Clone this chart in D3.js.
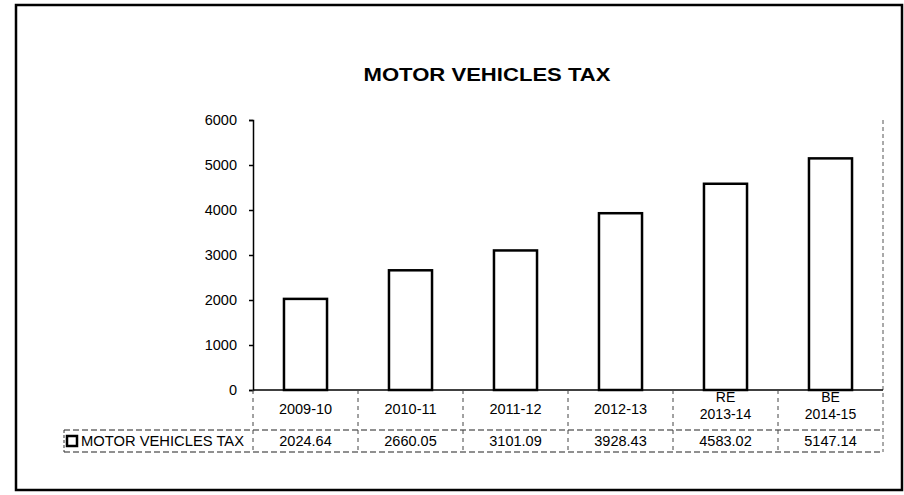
<!DOCTYPE html>
<html>
<head>
<meta charset="utf-8">
<script src="https://cdn.jsdelivr.net/npm/d3@7/dist/d3.min.js"></script>
<style>
  html, body { margin: 0; padding: 0; background: #fff; }
  svg { display: block; font-family: "Liberation Sans", Arial, sans-serif; }
</style>
</head>
<body>
<svg id="chart" width="904" height="495"></svg>
<script>
// ---- data ----
const categories = ["2009-10", "2010-11", "2011-12", "2012-13", "RE\n2013-14", "BE\n2014-15"];
const values = [2024.64, 2660.05, 3101.09, 3928.43, 4583.02, 5147.14];
const valueLabels = ["2024.64", "2660.05", "3101.09", "3928.43", "4583.02", "5147.14"];
const yTicks = [0, 1000, 2000, 3000, 4000, 5000, 6000];
const seriesName = "MOTOR VEHICLES TAX";
const chartTitle = "MOTOR VEHICLES TAX";

const svg = d3.select("#chart");
const fs = 14.5;

// outer frame
svg.append("rect")
  .attr("x", 16).attr("y", 5).attr("width", 886).attr("height", 485)
  .attr("fill", "none").attr("stroke", "#000").attr("stroke-width", 2.5);

const plotLeft = 253, plotRight = 883, plotTop = 120, plotBottom = 390;

const x = d3.scaleBand().domain(categories).range([plotLeft, plotRight])
  .paddingInner(0.59).paddingOuter(0.295);
const y = d3.scaleLinear().domain([0, 6000]).range([plotBottom, plotTop]);

// title
svg.append("text")
  .attr("x", 487).attr("y", 81)
  .attr("text-anchor", "middle")
  .attr("font-weight", "bold").attr("font-size", 18)
  .attr("textLength", 247).attr("lengthAdjust", "spacingAndGlyphs")
  .text(chartTitle);

// right dashed border of plot area
svg.append("line")
  .attr("x1", plotRight).attr("x2", plotRight).attr("y1", plotTop).attr("y2", 452)
  .attr("stroke", "#555").attr("stroke-width", 1).attr("stroke-dasharray", "4,3");

// y axis
const yAxis = d3.axisLeft(y).tickValues(yTicks).tickSize(4).tickPadding(12).tickFormat(d3.format("d"));
const gy = svg.append("g").attr("transform", `translate(${plotLeft},0)`).call(yAxis);
gy.select(".domain").attr("stroke", "#000").attr("stroke-width", 1.5);
gy.selectAll(".tick line").attr("stroke", "#000").attr("stroke-width", 1.5);
gy.selectAll(".tick text").attr("font-size", fs).attr("fill", "#000")
  .attr("font-family", "'Liberation Sans', Arial, sans-serif");

// bars
svg.selectAll("rect.bar").data(values).enter().append("rect")
  .attr("class", "bar")
  .attr("x", (d, i) => x(categories[i]))
  .attr("y", d => y(d))
  .attr("width", x.bandwidth())
  .attr("height", d => y(0) - y(d))
  .attr("fill", "#fff").attr("stroke", "#000").attr("stroke-width", 2.5);

// x axis line
svg.append("line")
  .attr("x1", plotLeft).attr("x2", plotRight).attr("y1", plotBottom).attr("y2", plotBottom)
  .attr("stroke", "#000").attr("stroke-width", 1.5);

// data table
const rowTop = 430, rowBottom = 452, tableLeft = 64;
const dash = "6,3";
svg.append("line").attr("x1", tableLeft).attr("x2", plotRight).attr("y1", rowTop).attr("y2", rowTop)
  .attr("stroke", "#222").attr("stroke-width", 1.2).attr("stroke-dasharray", dash);
svg.append("line").attr("x1", tableLeft).attr("x2", plotRight).attr("y1", rowBottom).attr("y2", rowBottom)
  .attr("stroke", "#222").attr("stroke-width", 1.2).attr("stroke-dasharray", dash);
svg.append("line").attr("x1", tableLeft).attr("x2", tableLeft).attr("y1", rowTop).attr("y2", rowBottom)
  .attr("stroke", "#333").attr("stroke-width", 1).attr("stroke-dasharray", "3,2");

// vertical separators at category boundaries
const step = x.step();
const boundaryXs = categories.map((c, i) => x(c) - x.paddingOuter() * step);
svg.selectAll("line.sep").data(boundaryXs).enter().append("line")
  .attr("class", "sep")
  .attr("x1", d => d).attr("x2", d => d)
  .attr("y1", plotBottom).attr("y2", rowBottom)
  .attr("stroke", "#444").attr("stroke-width", 1).attr("stroke-dasharray", "4,4");

// category labels
categories.forEach((c, i) => {
  const cx = x(c) + x.bandwidth() / 2;
  const lines = c.split("\n");
  if (lines.length === 1) {
    svg.append("text").attr("text-anchor", "middle").attr("font-size", fs)
      .attr("x", cx).attr("y", 414).text(lines[0]);
  } else {
    svg.append("text").attr("text-anchor", "middle").attr("font-size", fs - 0.5)
      .attr("x", cx).attr("y", 402).text(lines[0]);
    svg.append("text").attr("text-anchor", "middle").attr("font-size", fs - 0.5)
      .attr("x", cx).attr("y", 419).text(lines[1]);
  }
});

// value labels
valueLabels.forEach((v, i) => {
  svg.append("text")
    .attr("x", x(categories[i]) + x.bandwidth() / 2).attr("y", 446)
    .attr("text-anchor", "middle").attr("font-size", fs)
    .text(v);
});

// legend key + series name
svg.append("rect").attr("x", 67).attr("y", 436).attr("width", 10).attr("height", 10)
  .attr("fill", "#fff").attr("stroke", "#000").attr("stroke-width", 2.5);
svg.append("text").attr("x", 81).attr("y", 446).attr("font-size", fs)
  .attr("textLength", 163).attr("lengthAdjust", "spacingAndGlyphs")
  .text(seriesName);
</script>
</body>
</html>
